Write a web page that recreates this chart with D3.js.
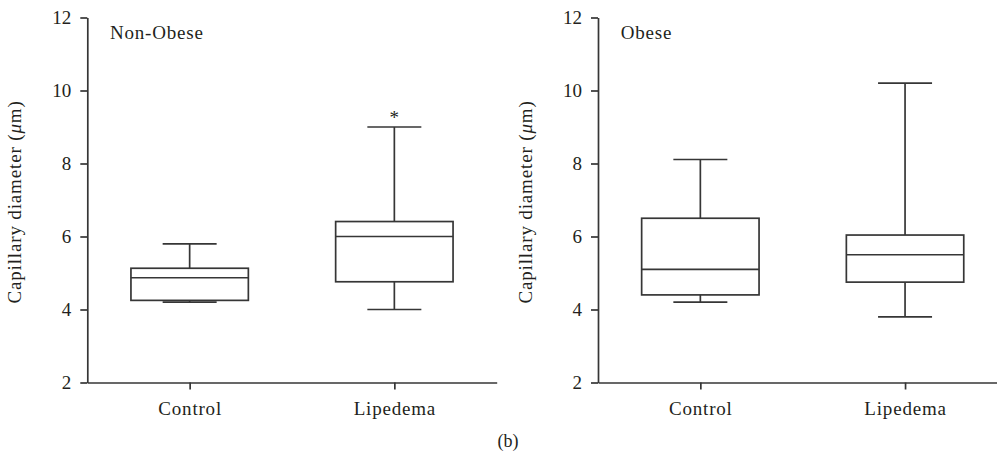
<!DOCTYPE html>
<html>
<head>
<meta charset="utf-8">
<script src="https://cdn.jsdelivr.net/npm/d3@7"></script>
<style>
  body { margin: 0; background: #fff; }
  svg { display: block; }
  text { font-family: "Liberation Serif", "Times New Roman", serif; fill: #231f20; }
</style>
</head>
<body>
<div id="chart"></div>
<script>
// groups on the x axis
const groups = ["Control", "Lipedema"];
const panelNames = ["Non-Obese", "Obese"];
const yTicks = [2, 4, 6, 8, 10, 12];

// box stats: [whiskerLow, q1, median, q3, whiskerHigh]
const nonObeseStats = [
    [4.2, 4.25, 4.87, 5.13, 5.8],
    [4.0, 4.76, 6.0, 6.41, 9.0]
];
const obeseStats = [
    [4.2, 4.4, 5.1, 6.5, 8.11],
    [3.8, 4.75, 5.5, 6.04, 10.2]
];
// significance marks above the whisker
const nonObeseMarks = ["", "*"];
const obeseMarks = ["", ""];

const W = 997, H = 457;
const svg = d3.select("#chart").append("svg")
    .attr("width", W)
    .attr("height", H);

const stroke = "#363636";
const plotW = 409.4;
const plotTop = 17.5, plotBottom = 382.5;

const y = d3.scaleLinear().domain([2, 12]).range([plotBottom, plotTop]);

function drawPanel(left, name, stats, marks) {
    let g = svg.append("g").attr("transform", "translate(" + left + ",0)");

    let x = d3.scalePoint()
        .domain(groups)
        .range([0, plotW])
        .padding(0.5);

    let boxHalf = 58.7;
    let capHalf = 27;

    // y axis
    let yAxis = g.append("g")
        .call(d3.axisLeft(y).tickValues(yTicks).tickSize(7).tickPadding(9).tickSizeOuter(0));
    yAxis.select(".domain").attr("stroke", stroke).attr("stroke-width", 1.7);
    yAxis.selectAll(".tick line").attr("stroke", stroke).attr("stroke-width", 1.7);
    yAxis.selectAll(".tick text")
        .attr("font-size", 19)
        .attr("fill", "#231f20")
        .style("font-family", "Liberation Serif, serif");

    // x axis
    let xAxis = g.append("g")
        .attr("transform", "translate(0," + plotBottom + ")")
        .call(d3.axisBottom(x).tickSize(7).tickPadding(12).tickSizeOuter(0));
    xAxis.select(".domain").attr("stroke", stroke).attr("stroke-width", 1.7);
    xAxis.selectAll(".tick line").attr("stroke", stroke).attr("stroke-width", 1.7);
    xAxis.selectAll(".tick text")
        .attr("font-size", 19)
        .attr("fill", "#231f20")
        .style("font-family", "Liberation Serif, serif")
        .style("letter-spacing", "0.8px");

    // y label
    g.append("text")
        .attr("transform", "translate(" + (-66) + "," + ((plotTop + plotBottom) / 2 + 2) + ") rotate(-90)")
        .attr("text-anchor", "middle")
        .attr("font-size", 19)
        .style("letter-spacing", "0.85px")
        .html('Capillary diameter (<tspan font-style="italic">μ</tspan>m)');

    // panel name
    g.append("text")
        .attr("x", 22.7)
        .attr("y", 39)
        .attr("font-size", 19)
        .style("letter-spacing", "0.8px")
        .text(name);

    // boxes
    let boxes = g.selectAll(".box")
        .data(stats)
        .enter()
        .append("g")
        .attr("class", "box");

    boxes.each(function(d, i) {
        let b = d3.select(this);
        let cx = x(groups[i]);
        let line = (x1, y1, x2, y2) => b.append("line")
            .attr("x1", x1).attr("y1", y1).attr("x2", x2).attr("y2", y2)
            .attr("stroke", stroke).attr("stroke-width", 1.7);

        // whiskers
        line(cx, y(d[4]), cx, y(d[3]));
        line(cx, y(d[1]), cx, y(d[0]));
        line(cx - capHalf, y(d[4]), cx + capHalf, y(d[4]));
        line(cx - capHalf, y(d[0]), cx + capHalf, y(d[0]));

        // box
        b.append("rect")
            .attr("x", cx - boxHalf)
            .attr("y", y(d[3]))
            .attr("width", boxHalf * 2)
            .attr("height", y(d[1]) - y(d[3]))
            .attr("fill", "none")
            .attr("stroke", stroke)
            .attr("stroke-width", 1.7);

        // median
        line(cx - boxHalf, y(d[2]), cx + boxHalf, y(d[2]));

        if (marks[i]) {
            b.append("text")
                .attr("x", cx)
                .attr("y", y(d[4]) - 3)
                .attr("text-anchor", "middle")
                .attr("font-size", 19)
                .text(marks[i]);
        }
    });
}

drawPanel(87.3, panelNames[0], nonObeseStats, nonObeseMarks);
drawPanel(598, panelNames[1], obeseStats, obeseMarks);

// figure letter
svg.append("text")
    .attr("x", 508)
    .attr("y", 447)
    .attr("text-anchor", "middle")
    .attr("font-size", 18)
    .text("(b)");
</script>
</body>
</html>
